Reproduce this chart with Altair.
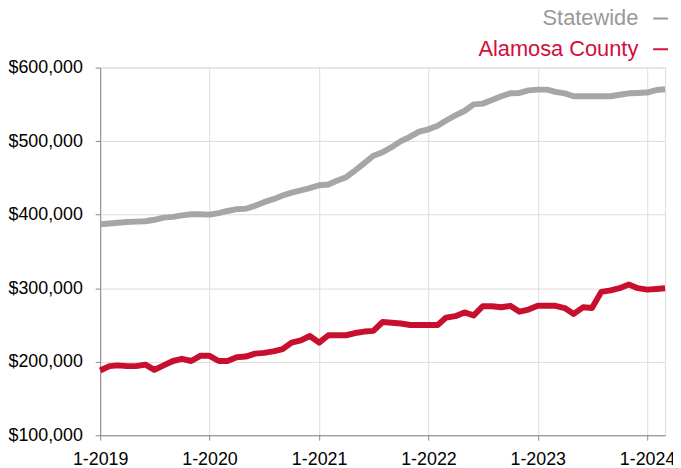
import altair as alt
import pandas as pd

months = pd.date_range("2019-01-01", "2024-03-01", freq="MS").strftime("%Y-%m-%d").tolist()

statewide = [387, 388, 389, 390, 390.5, 391, 393, 396, 397, 399, 400.5, 400.5,
             400, 402, 405, 407.5, 408, 412, 417, 421, 426, 430, 433, 436,
             440, 441, 446, 451, 460, 470, 480, 485, 492, 500, 506, 513,
             516, 521, 528, 535, 541, 550, 551, 556, 561, 565, 565.5, 569,
             570, 570, 567, 565, 561, 561, 561, 561, 561, 563, 565, 565.5,
             566, 569.5, 570.5]
alamosa = [188, 194, 195, 194, 194, 196, 189, 195, 201, 204, 201, 208,
           208, 201, 201, 206, 207, 211, 212, 214, 217, 226, 229, 235,
           226, 236, 236, 236, 239, 241, 242, 254, 253, 252, 250, 250,
           250, 250, 260, 262, 267, 263, 275.5, 275.5, 274, 276, 268, 271,
           276, 276, 276, 273, 265, 274, 273, 295, 297, 300, 305, 300,
           298, 299, 300]

series_names = ["Statewide", "Alamosa County"]
line_colors = ["#a6a6a6", "#c8102e"]
label_colors = ["#999999", "#d0103a"]
year_ticks = [2019, 2020, 2021, 2022, 2023, 2024]
y_ticks = [100000, 200000, 300000, 400000, 500000, 600000]

rows = []
for m, s, a in zip(months, statewide, alamosa):
    rows.append({"date": m, "series": "Statewide", "value": s * 1000})
    rows.append({"date": m, "series": "Alamosa County", "value": a * 1000})
df = pd.DataFrame(rows)

FONT = "Liberation Sans"

x_enc = alt.X(
    "date:T",
    scale=alt.Scale(type="utc", domain=[alt.DateTime(year=2019, month=1, date=1, utc=True),
                                        alt.DateTime(year=2024, month=3, date=1, utc=True)]),
    axis=alt.Axis(
        title=None,
        values=[alt.DateTime(year=y, month=1, date=1, utc=True) for y in year_ticks],
        format="%-m-%Y",
        labelFontSize=18,
        labelColor="#000000",
        labelFont=FONT,
        tickSize=5,
        labelPadding=11,
        domainColor="#888888",
        tickColor="#888888",
        gridColor="#dddddd",
        labelFlush=False,
    ),
)
y_enc = alt.Y(
    "value:Q",
    scale=alt.Scale(domain=[100000, 600000], nice=False, zero=False),
    axis=alt.Axis(
        title=None,
        values=y_ticks,
        format="$,.0f",
        labelFontSize=18,
        labelColor="#000000",
        labelFont=FONT,
        tickSize=5,
        labelPadding=13,
        domainColor="#888888",
        tickColor="#888888",
        gridColor="#dddddd",
    ),
)

lines = alt.Chart(df).mark_line(strokeWidth=6, strokeJoin="round").encode(
    x=x_enc,
    y=y_enc,
    color=alt.Color("series:N", scale=alt.Scale(domain=series_names, range=line_colors), legend=None),
    detail="series:N",
)

leg_df = pd.DataFrame({"series": series_names, "lc": label_colors})
layers = [lines]
leg_y = [-43, -12]
dash_y = [-49.5, -18.5]
for i, name in enumerate(series_names):
    sub = alt.Chart(leg_df).transform_filter(alt.datum.series == name)
    layers.append(
        sub.mark_text(align="right", baseline="alphabetic", fontSize=22, font=FONT, color=label_colors[i]).encode(
            text="series:N", x=alt.value(543), y=alt.value(leg_y[i])
        )
    )
    layers.append(
        sub.mark_rule(strokeWidth=2, color=label_colors[i]).encode(
            x=alt.value(558), x2=alt.value(573), y=alt.value(dash_y[i])
        )
    )

chart = alt.layer(*layers).properties(
    width=570,
    height=371,
    autosize=alt.AutoSizeParams(type="none"),
    padding={"left": 93, "top": 58, "right": 8, "bottom": 40},
).configure_view(stroke="#888888", strokeWidth=1).configure(background="white")

chart.save("out.html", embed_options={"renderer": "svg", "actions": False})
